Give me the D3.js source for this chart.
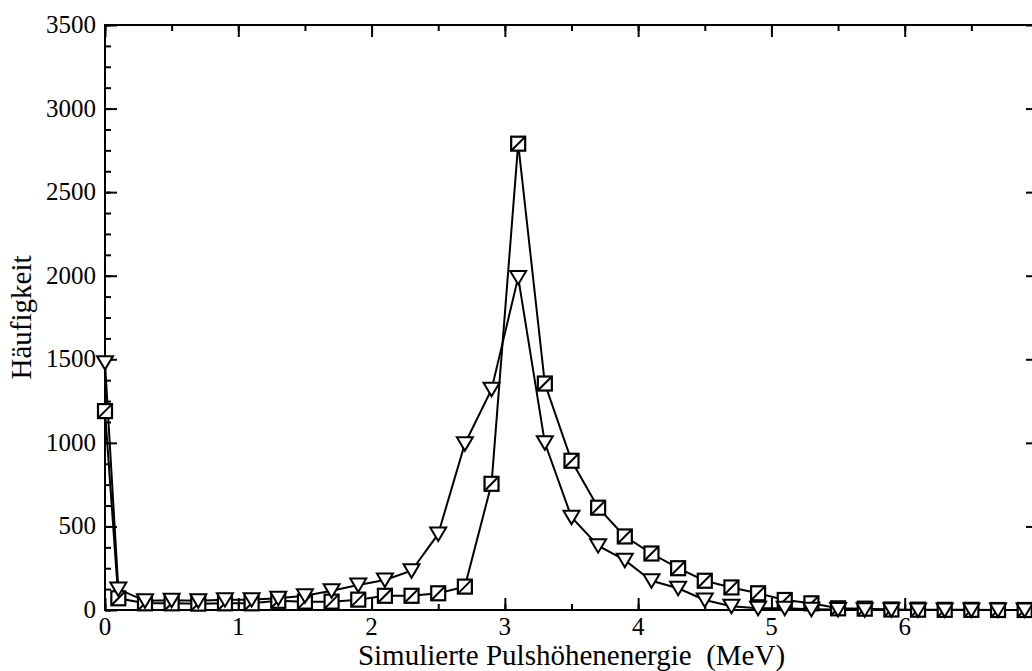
<!DOCTYPE html>
<html>
<head>
<meta charset="utf-8">
<script src="https://cdn.jsdelivr.net/npm/d3@7"></script>
<style>
  html, body { margin: 0; padding: 0; background: #fff; }
  svg { display: block; }
  text { font-family: "Liberation Serif", "DejaVu Serif", serif; fill: #000; }
</style>
</head>
<body>
<svg id="chart" width="1032" height="671"></svg>
<script>
// ---- data ----
const energies = [0, 0.1, 0.3, 0.5, 0.7, 0.9, 1.1, 1.3, 1.5, 1.7, 1.9, 2.1, 2.3, 2.5, 2.7, 2.9,
  3.1, 3.3, 3.5, 3.7, 3.9, 4.1, 4.3, 4.5, 4.7, 4.9, 5.1, 5.3, 5.5, 5.7, 5.9, 6.1, 6.3, 6.5, 6.7, 6.9];
const squareCounts = [1190, 70, 40, 40, 38, 40, 40, 55, 50, 50, 62, 85, 85, 100, 140, 755,
  2790, 1355, 893, 612, 440, 338, 250, 175, 135, 100, 60, 40, 10, 8, 3, 2, 1, 1, 0, 0];
const triangleCounts = [1480, 125, 55, 58, 55, 62, 62, 70, 85, 115, 150, 180, 235, 455, 995, 1320,
  1990, 1000, 555, 385, 298, 175, 130, 60, 22, 10, 10, 5, 3, 2, 1, 0, 0, 0, 0, 0];
const xTicks = [0, 1, 2, 3, 4, 5, 6, 7];
const yTicks = [0, 500, 1000, 1500, 2000, 2500, 3000, 3500];
const xLabel = "Simulierte Pulshöhenenergie  (MeV)";
const yLabel = "Häufigkeit";

// ---- layout ----
const svg = d3.select("#chart");
const pLeft = 105, pRight = 1038, pTop = 25, pBottom = 610;
const x = d3.scaleLinear().domain([0, 7]).range([pLeft, pRight]);
const y = d3.scaleLinear().domain([0, 3500]).range([pBottom, pTop]);

const xMinor = d3.range(0, 7.01, 0.5);
const yMinor = d3.range(0, 3501, 125);

function styleAxis(g) {
  g.select(".domain").remove();
  g.selectAll("line").attr("stroke", "#000").attr("stroke-width", 2);
}

// minor ticks (all four sides)
svg.append("g").attr("transform", `translate(0,${pBottom})`)
  .call(d3.axisTop(x).tickValues(xMinor).tickSize(6).tickFormat(""))
  .call(styleAxis);
svg.append("g").attr("transform", `translate(0,${pTop})`)
  .call(d3.axisBottom(x).tickValues(xMinor).tickSize(6).tickFormat(""))
  .call(styleAxis);
svg.append("g").attr("transform", `translate(${pLeft},0)`)
  .call(d3.axisRight(y).tickValues(yMinor).tickSize(6).tickFormat(""))
  .call(styleAxis);
svg.append("g").attr("transform", `translate(${pRight},0)`)
  .call(d3.axisLeft(y).tickValues(yMinor).tickSize(6).tickFormat(""))
  .call(styleAxis);

// major ticks
svg.append("g").attr("transform", `translate(0,${pBottom})`)
  .call(d3.axisTop(x).tickValues(xTicks).tickSize(12).tickFormat(""))
  .call(styleAxis);
svg.append("g").attr("transform", `translate(0,${pTop})`)
  .call(d3.axisBottom(x).tickValues(xTicks).tickSize(12).tickFormat(""))
  .call(styleAxis);
svg.append("g").attr("transform", `translate(${pLeft},0)`)
  .call(d3.axisRight(y).tickValues(yTicks).tickSize(12).tickFormat(""))
  .call(styleAxis);
svg.append("g").attr("transform", `translate(${pRight},0)`)
  .call(d3.axisLeft(y).tickValues(yTicks).tickSize(12).tickFormat(""))
  .call(styleAxis);

// tick labels
svg.append("g").selectAll("text").data(xTicks).join("text")
  .attr("x", d => x(d)).attr("y", pBottom + 25)
  .attr("text-anchor", "middle").attr("font-size", 25)
  .text(d => d);
svg.append("g").selectAll("text").data(yTicks).join("text")
  .attr("x", pLeft - 9).attr("y", d => y(d) + 8)
  .attr("text-anchor", "end").attr("font-size", 25)
  .text(d => d);

// frame
svg.append("rect")
  .attr("x", pLeft).attr("y", pTop)
  .attr("width", pRight - pLeft).attr("height", pBottom - pTop)
  .attr("fill", "none").attr("stroke", "#000").attr("stroke-width", 2);

// axis titles
svg.append("text")
  .attr("x", (pLeft + pRight) / 2).attr("y", 665)
  .attr("text-anchor", "middle").attr("font-size", 29)
  .style("white-space", "pre")
  .text(xLabel);
svg.append("text")
  .attr("transform", `translate(31,${(pTop + pBottom) / 2}) rotate(-90)`)
  .attr("text-anchor", "middle").attr("font-size", 29)
  .text(yLabel);

// ---- series ----
const sqData = energies.map((e, i) => ({ e, v: squareCounts[i] }));
const trData = energies.map((e, i) => ({ e, v: triangleCounts[i] }));
const line = d3.line().x(d => x(d.e)).y(d => y(d.v));

svg.append("path").datum(sqData).attr("d", line)
  .attr("fill", "none").attr("stroke", "#000").attr("stroke-width", 2);
svg.append("path").datum(trData).attr("d", line)
  .attr("fill", "none").attr("stroke", "#000").attr("stroke-width", 2);

// square markers with diagonal
const sq = svg.append("g").selectAll("g").data(sqData).join("g")
  .attr("transform", d => `translate(${x(d.e)},${y(d.v)})`);
sq.append("rect").attr("x", -7).attr("y", -7).attr("width", 14).attr("height", 14)
  .attr("fill", "#fff").attr("stroke", "#000").attr("stroke-width", 2.2);
sq.append("line").attr("x1", -7).attr("y1", 7).attr("x2", 7).attr("y2", -7)
  .attr("stroke", "#000").attr("stroke-width", 2);

// downward triangle markers
svg.append("g").selectAll("path").data(trData).join("path")
  .attr("transform", d => `translate(${x(d.e)},${y(d.v)})`)
  .attr("d", "M-8,-6.5L8,-6.5L0,7Z")
  .attr("fill", "#fff").attr("stroke", "#000").attr("stroke-width", 2)
  .attr("stroke-linejoin", "miter");
</script>
</body>
</html>
